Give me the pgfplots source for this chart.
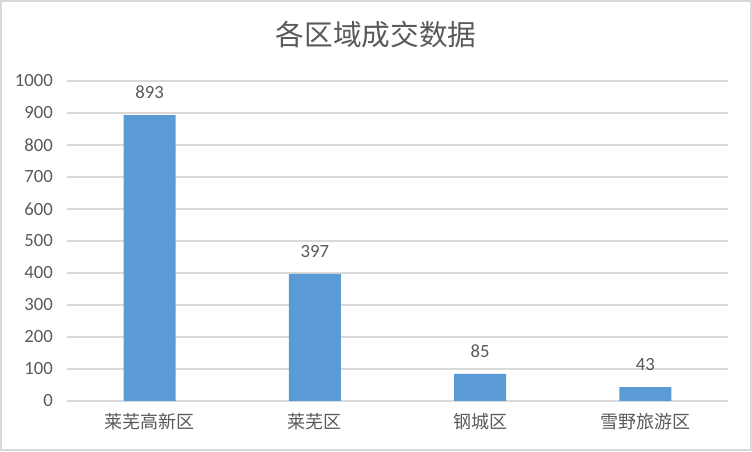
\documentclass[border=0pt]{standalone}
\usepackage{pgfplots}
\pgfplotsset{compat=1.18}
\usepackage{fontspec}
\setmainfont{Carlito}
\newfontfamily\cjk{Noto Sans CJK SC}

\definecolor{barblue}{HTML}{5B9BD5}
\definecolor{gridgray}{HTML}{D9D9D9}
\definecolor{txtgray}{HTML}{595959}

\begin{document}
\begin{tikzpicture}[x=0.75pt,y=0.75pt]
  \useasboundingbox (-67,-51) rectangle (685,401);
  \draw[gridgray, line width=1.5pt] (-65.5,-49.5) rectangle (683.5,399.5);
  \node[txtgray, font=\cjk\fontsize{21.5}{24}\selectfont] at (309,366) {各区域成交数据};
  \begin{axis}[
      at={(0,0)}, anchor=south west,
      scale only axis,
      width=495.75pt, height=240pt,
      xmin=-0.5, xmax=3.5,
      ymin=0, ymax=1000,
      ytick={0,100,...,1000},
      xtick={0,1,2,3},
      xticklabels={莱芜高新区, 莱芜区, 钢城区, 雪野旅游区},
      axis line style={draw=none},
      major tick length=0pt,
      ymajorgrids,
      grid style={gridgray, line width=1.1pt},
      /pgf/number format/assume math mode=true,
      /pgf/number format/1000 sep={},
      yticklabel style={anchor=east, inner sep=0pt, xshift=-10.5pt,
        font=\fontsize{14}{16}\selectfont, text=txtgray},
      xticklabel style={anchor=north, inner sep=0pt, yshift=-9pt,
        font=\cjk\fontsize{13.5}{16}\selectfont, text=txtgray},
      ybar, bar width=39pt,
      nodes near coords,
      nodes near coords style={anchor=south, inner sep=0pt, yshift=12pt,
        font=\fontsize{14}{16}\selectfont, text=txtgray},
    ]
    \addplot[fill=barblue, draw=none] coordinates {
      (0, 893)
      (1, 397)
      (2, 85)
      (3, 43)
    };
  \end{axis}
\end{tikzpicture}
\end{document}
